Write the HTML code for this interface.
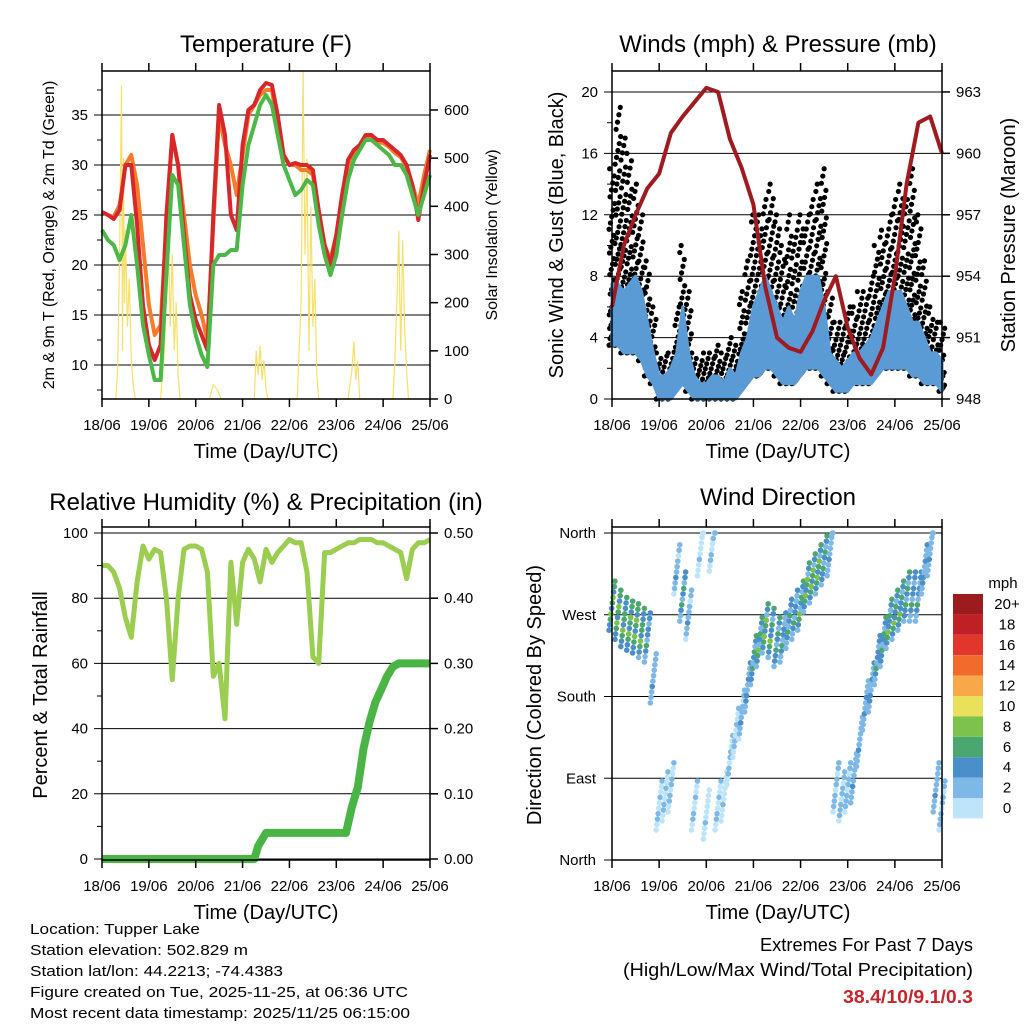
<!DOCTYPE html>
<html><head><meta charset="utf-8"><title>Station Meteogram</title>
<style>
html,body{margin:0;padding:0;background:#fff;}
svg{display:block;font-family:"Liberation Sans",sans-serif;}
.tk{font-size:15px;fill:#000;}
.ti{font-size:24px;fill:#000;}
.ax{font-size:20px;fill:#000;}
</style></head>
<body>
<svg id="fig" width="1024" height="1024" viewBox="0 0 1024 1024">
<g id="p1"></g>
<g id="p2"></g>
<g id="p3"></g>
<g id="p4"></g>
<g id="legend"></g>

<text class="ti" x="266" y="52" text-anchor="middle">Temperature (F)</text>
<text class="ti" x="778" y="52" text-anchor="middle">Winds (mph) &amp; Pressure (mb)</text>
<text class="ti" x="266" y="510" text-anchor="middle">Relative Humidity (%) &amp; Precipitation (in)</text>
<text class="ti" x="778" y="505" text-anchor="middle">Wind Direction</text>

<text class="ax" x="266" y="458" text-anchor="middle">Time (Day/UTC)</text>
<text class="ax" x="778" y="458" text-anchor="middle">Time (Day/UTC)</text>
<text class="ax" x="266" y="919" text-anchor="middle">Time (Day/UTC)</text>
<text class="ax" x="778" y="919" text-anchor="middle">Time (Day/UTC)</text>

<text x="54" y="235" font-size="16" text-anchor="middle" transform="rotate(-90 54 235)">2m &amp; 9m T (Red, Orange) &amp; 2m Td (Green)</text>
<text x="497" y="235" font-size="16" text-anchor="middle" transform="rotate(-90 497 235)">Solar Insolation (Yellow)</text>
<text x="563" y="235" font-size="20" text-anchor="middle" transform="rotate(-90 563 235)">Sonic Wind &amp; Gust (Blue, Black)</text>
<text x="1015" y="235" font-size="20" text-anchor="middle" transform="rotate(-90 1015 235)">Station Pressure (Maroon)</text>
<text x="47" y="695" font-size="20" text-anchor="middle" transform="rotate(-90 47 695)">Percent &amp; Total Rainfall</text>
<text x="541" y="695" font-size="20" text-anchor="middle" transform="rotate(-90 541 695)">Direction (Colored By Speed)</text>

<g font-size="15">
<text x="30" y="934" textLength="170" lengthAdjust="spacingAndGlyphs">Location: Tupper Lake</text>
<text x="30" y="955" textLength="218" lengthAdjust="spacingAndGlyphs">Station elevation: 502.829 m</text>
<text x="30" y="976" textLength="253" lengthAdjust="spacingAndGlyphs">Station lat/lon: 44.2213; -74.4383</text>
<text x="30" y="997" textLength="378" lengthAdjust="spacingAndGlyphs">Figure created on Tue, 2025-11-25, at 06:36 UTC</text>
<text x="30" y="1018" textLength="380" lengthAdjust="spacingAndGlyphs">Most recent data timestamp: 2025/11/25 06:15:00</text>
</g>
<g font-size="18" text-anchor="end">
<text x="973" y="951" textLength="213" lengthAdjust="spacingAndGlyphs">Extremes For Past 7 Days</text>
<text x="973" y="976" textLength="350" lengthAdjust="spacingAndGlyphs">(High/Low/Max Wind/Total Precipitation)</text>
<text x="973" y="1003" fill="#c8262b" font-weight="bold" textLength="130" lengthAdjust="spacingAndGlyphs">38.4/10/9.1/0.3</text>
</g>
</svg>
<script>
// ---- data ----
const dayLabels = ["18/06","19/06","20/06","21/06","22/06","23/06","24/06","25/06"];
const hours3 = [0,3,6,9,12,15,18,21,24,27,30,33,36,39,42,45,48,51,54,57,60,63,66,69,72,75,78,81,84,87,90,93,96,99,102,105,108,111,114,117,120,123,126,129,132,135,138,141,144,147,150,153,156,159,162,165,168];
const temp2m = [25.3,25,24.6,25.5,30,30,24,16,12,10.5,12,25,33,30,23,17,14.5,13,11.5,25,36,33,25,23.5,32,35.5,36,37.5,38.2,38,35,31,30,30.2,30,30,29.5,25.5,22,20,23,27,30.5,31.5,32,33,33,32.5,32.5,32,31.5,31,30,28,24.5,28,31];
const temp9m = [25.3,25,24.8,26,30,31,28,22,16,13,14,24,33,30,25,20,17,15,12.5,24,35,32,30,27,31,35,36,37,37.5,37.5,34,31,30,30,29.5,29.5,29,25,22,20.5,23,27,30,31.2,31.8,32.8,32.8,32.3,32.2,31.8,31.2,30.8,29.8,28,26,29,31.5];
const dewpt = [23.5,22.5,22,20.5,22,25,20,14,11,8.5,8.5,19,29,28,22,16,13,11,9.8,20,21,21,21.5,21.5,28,32,34,36,37,36,33,30,28.5,27,27.5,28.5,28,24,21,19,21,25,28.5,30.5,31.5,32.5,32.5,32,31.5,31,30,30,29,27,25,27,29];
const solarH = [0,7,8,9,10,10.5,11,11.5,12,13,14,15,16,17,30,32,33,34,35,36,37,38,39,40,55,57,59,61,78,79,80,81,82,83,84,85,100,102,103,104,105,106,107,108,109,110,111,126,128,129,130,131,132,149,150,151,152,153,154,155,156,157,168];
const solarV = [0,0,60,300,650,100,500,200,350,150,250,80,30,0,0,100,250,330,150,300,100,200,50,0,0,30,20,0,0,100,50,110,40,80,20,0,0,200,680,300,500,100,400,150,250,50,0,0,60,120,40,80,0,0,80,200,350,100,330,150,60,0,0];
const windLo = [3.5,3.5,3,3,3,2.5,1.5,1,0,0,0,0.5,1,0.5,0,0,0,0,0,0,0,0,0.5,1,1.5,1.5,2,2,1.5,1,1,1,1.5,2,2,2,1.5,1,0.5,0.5,0.5,1,1,1,1,1.5,2,2,2,2,2,1.5,1.5,1,1,1,0.5];
const windHi = [7.5,7.5,7,7.5,8,7,5,3,1.5,1.5,2,3,6,3,1.5,1,1,1.5,1.5,1,2,1.5,3,4,6,7,8,7,6,5,6,5,7,8,8,8,6,3,2.5,2,2.5,3,3,3.5,4,5,6,7,7,7,6,5,5,4,3,3,2.5];
const gustHi = [15,19,17,16,14,12,9,6,3,2.8,3,6,10,7,3,2.5,3,3,3.5,3,4,3.5,7,9,12,12,13,14,12,10,12,11,12,12,13,14,15,7,5,5,6,6,7,7,8,10,11,12,13,14,13,15,12,9,6,5,5];
const pressH = [0,6,12,18,24,30,36,42,48,54,60,66,72,78,84,90,96,102,108,114,120,126,132,138,144,150,156,162,168];
const pressV = [952.5,955.5,957,958.3,959,961,961.8,962.5,963.2,963,960.7,959.3,957.5,953.5,951,950.5,950.3,951.3,952.8,954,951.5,950,949.2,950.5,954,958.5,961.5,961.8,960];
const rhV = [90,90,88,83,74,68,85,96,92,95,94,80,55,80,95,96,96,95,88,56,60,43,91,72,91,95,92,85,95,91,94,96,98,97,97,88,62,60,94,94,95,96,97,97,98,98,98,97,97,96,95,94,86,95,97,97,98];
const precipH = [0,78,80,84,125,128,131,134,137,140,143,146,149,152,168];
const precipV = [0,0,0.02,0.04,0.04,0.08,0.11,0.17,0.21,0.24,0.26,0.28,0.295,0.3,0.3];
const dirV = [280,270,262,258,255,250,245,200,60,70,80,320,290,270,60,340,50,345,60,70,110,140,160,190,220,240,255,250,240,245,260,270,280,300,310,320,330,340,80,70,80,90,130,170,190,220,240,260,270,280,290,290,290,320,340,80,60];
const legendLabels = ["20+","18","16","14","12","10","8","6","4","2","0"];
const legendColors = ["#9b1b1e","#c11f26","#e1362b","#f26a2c","#f8a848","#e9e15c","#7dc24c","#4aa76f","#4a8fc9","#7db8e6","#bde4f8"];

// ---- helpers ----
const NS = "http://www.w3.org/2000/svg";
function mk(parent, tag, attrs){ const e=document.createElementNS(NS,tag); for(const k in attrs) e.setAttribute(k,attrs[k]); parent.appendChild(e); return e; }
function panel(g,L,R,T,B){ return { L,R,T,B, x:h=>L+h*(R-L)/168 }; }
function frame(g,P,name){
  const r=mk(g,"rect",{x:P.L,y:P.T,width:P.R-P.L,height:P.B-P.T,fill:"none",stroke:"#000","stroke-width":1.5});
  
  
  for(let d=0; d<dayLabels.length; d++){
    const x=P.x(d*24);
    mk(g,"line",{x1:x,y1:P.B,x2:x,y2:P.B+8,stroke:"#000","stroke-width":1.5});
    mk(g,"line",{x1:x,y1:P.T,x2:x,y2:P.T-8,stroke:"#000","stroke-width":1.5});
    const t=mk(g,"text",{x:x,y:P.B+31,"text-anchor":"middle",class:"tk"});
    t.textContent=dayLabels[d];
    
    
  }
}
function leftGrid(g,P,y,label,off){
  mk(g,"line",{x1:P.L-8,y1:y,x2:P.R,y2:y,stroke:"#000","stroke-width":1});
  const t=mk(g,"text",{x:P.L-(off||14),y:y+5,"text-anchor":"end",class:"tk"});
  t.textContent=label;
  
  
}
function rightTick(g,P,y,label){
  mk(g,"line",{x1:P.R,y1:y,x2:P.R+8,y2:y,stroke:"#000","stroke-width":1.5});
  const t=mk(g,"text",{x:P.R+14,y:y+5,"text-anchor":"start",class:"tk"});
  t.textContent=label;
  
  
}
function path(pts){ return pts.map((p,i)=>(i?"L":"M")+p[0].toFixed(1)+","+p[1].toFixed(1)).join(""); }
function speedColor(s){ let i=Math.min(10,Math.max(0,Math.round(s/2))); return legendColors[10-i]; }

// ---- Panel 1: Temperature ----
(function(){
  const g=document.getElementById("p1");
  const P=panel(g,102,430,71,399);
  const ty=v=>465-10*v, sy=v=>399-v*0.4817;
  [10,15,20,25,30,35].forEach(v=>leftGrid(g,P,ty(v),String(v)));
  for(let v=7.5; v<40; v+=5){ mk(g,"line",{x1:P.L-5,y1:ty(v),x2:P.L,y2:ty(v),stroke:"#000"}); }
  [0,100,200,300,400,500,600].forEach(v=>rightTick(g,P,sy(v),String(v)));
  const sol=mk(g,"path",{d:path(solarH.map((h,i)=>[P.x(h),sy(solarV[i])])),fill:"none",stroke:"#f7e06a","stroke-width":1.2});
  
  
  const series=[[temp9m,"#f47c2a","temp-9m-line"],[temp2m,"#d8262a","temp-2m-line"],[dewpt,"#4cb847","dewpoint-line"]];
  series.forEach(s=>{
    const p=mk(g,"path",{d:path(hours3.map((h,i)=>[P.x(h),ty(s[0][i])])),fill:"none",stroke:s[1],"stroke-width":4,"stroke-linejoin":"round"});
    
    
  });
  frame(g,P,"temperature");
})();

// ---- Panel 2: Winds & Pressure ----
(function(){
  const g=document.getElementById("p2");
  const P=panel(g,612,942,71,399);
  const wy=v=>399-v*15.35, py=v=>399-(v-948)*20.47;
  [0,4,8,12,16,20].forEach(v=>leftGrid(g,P,wy(v),String(v)));
  [948,951,954,957,960,963].forEach(v=>rightTick(g,P,py(v),String(v)));
  for(let v=2; v<21; v+=4){ mk(g,"line",{x1:P.L-5,y1:wy(v),x2:P.L,y2:wy(v),stroke:"#000"}); }
  const dots=mk(g,"g",{fill:"#000"});
  
  
  hours3.forEach((h,i)=>{
    const n=Math.round((gustHi[i]-windLo[i])*3)+5;
    for(let k=0;k<n;k++){
      const f=k/(n-1);
      const jx=((k*37)%30)/10-1.5;
      mk(dots,"circle",{cx:P.x(h+jx),cy:wy(windLo[i]+(gustHi[i]-windLo[i])*Math.pow(f,1.6)),r:2.6});
    }
  });
  const band=hours3.map((h,i)=>[P.x(h),wy(windHi[i])]).concat(hours3.slice().reverse().map((h,j)=>{const i=hours3.length-1-j;return [P.x(h),wy(windLo[i])];}));
  const b=mk(g,"path",{d:path(band)+"Z",fill:"#5b9bd5",stroke:"#5b9bd5","stroke-width":3,"stroke-linejoin":"round"});
  
  
  const pl=mk(g,"path",{d:path(pressH.map((h,i)=>[P.x(h),py(pressV[i])])),fill:"none",stroke:"#a01b1f","stroke-width":4,"stroke-linejoin":"round"});
  
  
  frame(g,P,"winds");
})();

// ---- Panel 3: RH & Precip ----
(function(){
  const g=document.getElementById("p3");
  const P=panel(g,102,430,527,860);
  const ry=v=>859-v*3.26, qy=v=>859-v*652;
  [0,20,40,60,80,100].forEach(v=>leftGrid(g,P,ry(v),String(v)));
  [0,0.1,0.2,0.3,0.4,0.5].forEach(v=>rightTick(g,P,qy(v),v.toFixed(2)));
  for(let v=10; v<100; v+=20){ mk(g,"line",{x1:P.L-5,y1:ry(v),x2:P.L,y2:ry(v),stroke:"#000"}); }
  const rh=mk(g,"path",{d:path(hours3.map((h,i)=>[P.x(h),ry(rhV[i])])),fill:"none",stroke:"#9acd50","stroke-width":5,"stroke-linejoin":"round"});
  
  
  const pr=mk(g,"path",{d:path(precipH.map((h,i)=>[P.x(h),qy(precipV[i])])),fill:"none",stroke:"#4ab545","stroke-width":8,"stroke-linejoin":"round"});
  
  
  frame(g,P,"humidity");
})();

// ---- Panel 4: Wind Direction ----
(function(){
  const g=document.getElementById("p4");
  const P=panel(g,612,942,527,860);
  const dy=d=>860-d*0.9083;
  const names=["North","East","South","West","North"];
  [0,90,180,270,360].forEach((d,k)=>leftGrid(g,P,dy(d),names[k],16));
  const pts=mk(g,"g",{});
  
  
  hours3.forEach((h,i)=>{
    const n=10;
    for(let k=0;k<n;k++){
      const off=((k*7)%n-(n-1)/2)*6;
      const jx=((k*17)%10)/3-1.5;
      let d=dirV[i]+off; if(d>360) d=360; if(d<0) d=0;
      const s=windLo[i]+(windHi[i]-windLo[i])*k/(n-1);
      mk(pts,"circle",{cx:P.x(h+jx),cy:dy(d),r:2.8,fill:speedColor(s)});
    }
  });
  frame(g,P,"direction");
})();

// ---- Legend ----
(function(){
  const g=document.getElementById("legend");
  const t0=mk(g,"text",{x:1003,y:588,"text-anchor":"middle",class:"tk"});
  t0.textContent="mph";
  
  
  legendColors.forEach((c,i)=>{
    const r=mk(g,"rect",{x:953,y:594+i*20.4,width:30,height:20.4,fill:c});
    
    
    const t=mk(g,"text",{x:1007,y:609+i*20.4,"text-anchor":"middle",class:"tk"});
    t.textContent=legendLabels[i];
    
    
  });
})();
</script>
</body></html>
